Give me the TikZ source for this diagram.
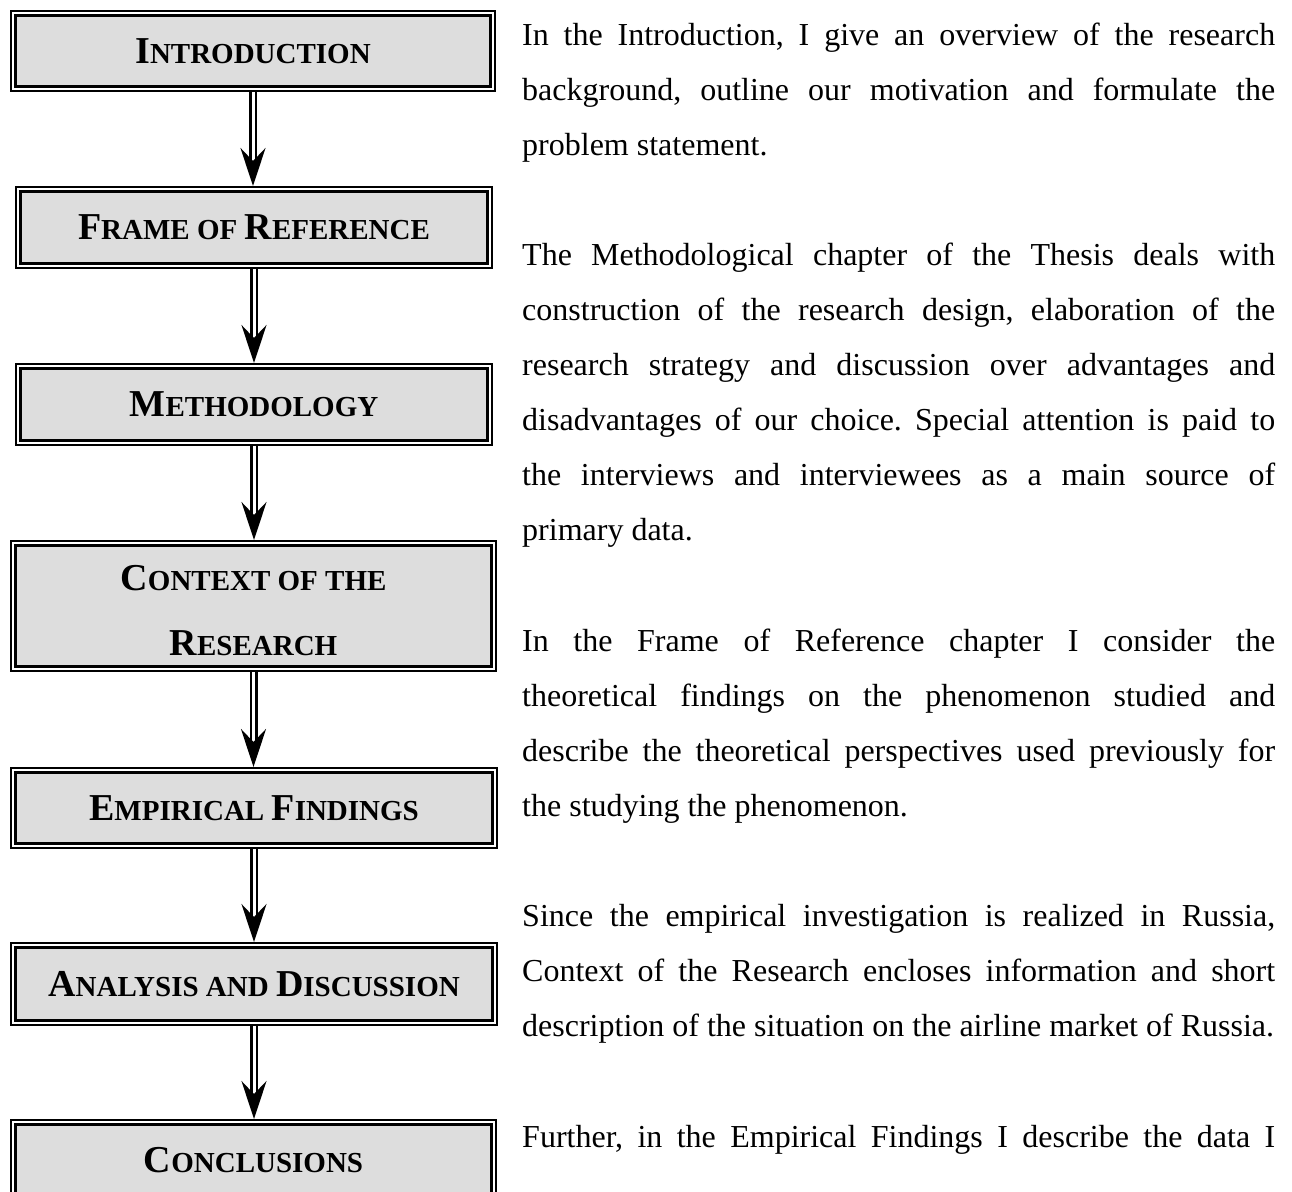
\documentclass[tikz,border=0pt]{standalone}
\usepackage{fontspec}
\setmainfont{Liberation Serif}
\usetikzlibrary{arrows.meta}

\definecolor{boxfill}{HTML}{DDDDDD}

% enlarged initial capital for the hand-made small caps of the box titles
\newcommand\initcap[1]{{\fontsize{38}{40}\selectfont #1}}

\tikzset{
  chapter/.style={
    draw=black, line width=2pt, fill=white, inner sep=0pt, align=center,
    font=\fontsize{29}{65}\selectfont\bfseries,
    path picture={
      \draw[line width=3pt, fill=boxfill]
        ([xshift=4.5pt,yshift=-4.5pt]path picture bounding box.north west) rectangle
        ([xshift=-4.5pt,yshift=4.5pt]path picture bounding box.south east);
    }
  },
  flow/.style={
    draw=black, line width=2.5pt, double=white, double distance=3pt,
    -{Stealth[length=38pt,width=25pt,inset=13pt]}
  },
  para/.style={anchor=base west, inner sep=0pt,
    font=\fontsize{32}{55.1}\selectfont}
}

\newcommand\parabox[1]{\parbox[t]{753pt}{\frenchspacing\hyphenpenalty=10000
  \tolerance=10000 #1}}

\begin{document}
\begin{tikzpicture}[x=1pt, y=-1pt]
  \useasboundingbox (0,0) rectangle (1292,1191);
  \clip (0,0) rectangle (1292,1191);

  % chapter boxes
  \node[chapter, minimum width=484pt, minimum height=80pt] (intro) at (253,51)
    {\initcap{I}NTRODUCTION};
  \node[chapter, minimum width=476pt, minimum height=81pt] (frame) at (254,227.5)
    {\initcap{F}RAME OF \initcap{R}EFERENCE};
  \node[chapter, minimum width=476pt, minimum height=81pt] (method) at (254,404.5)
    {\initcap{M}ETHODOLOGY};
  \node[chapter, minimum width=485pt, minimum height=130pt] (context) at (253.5,606)
    {\rule{0pt}{35pt}\initcap{C}ONTEXT OF THE\\\initcap{R}ESEARCH};
  \node[chapter, minimum width=486pt, minimum height=80pt] (empir) at (254,808)
    {\initcap{E}MPIRICAL \initcap{F}INDINGS};
  \node[chapter, minimum width=486pt, minimum height=82pt] (analysis) at (254,984)
    {\initcap{A}NALYSIS AND \initcap{D}ISCUSSION};
  \node[chapter, minimum width=485pt, minimum height=80pt] (concl) at (253.5,1160)
    {\initcap{C}ONCLUSIONS};

  % connectors between consecutive chapters
  \draw[flow] (intro.south)    -- (intro.south |- frame.north);
  \draw[flow] (frame.south)    -- (frame.south |- method.north);
  \draw[flow] (method.south)   -- (method.south |- context.north);
  \draw[flow] (context.south)  -- (context.south |- empir.north);
  \draw[flow] (empir.south)    -- (empir.south |- analysis.north);
  \draw[flow] (analysis.south) -- (analysis.south |- concl.north);

  % descriptive text column
  \node[para] (p1) at (522,45) {\parabox{In the Introduction, I give an overview of the research\linebreak
    background, outline our motivation and formulate the\linebreak
    problem statement.}};
  \node[para] (p2) at (522,265.4) {\parabox{The Methodological chapter of the Thesis deals with\linebreak
    construction of the research design, elaboration of the\linebreak
    research strategy and discussion over advantages and\linebreak
    disadvantages of our choice. Special attention is paid to\linebreak
    the interviews and interviewees as a main source of\linebreak
    primary data.}};
  \node[para] (p3) at (522,651.1) {\parabox{In the Frame of Reference chapter I consider the\linebreak
    theoretical findings on the phenomenon studied and\linebreak
    describe the theoretical perspectives used previously for\linebreak
    the studying the phenomenon.}};
  \node[para] (p4) at (522,926.6) {\parabox{Since the empirical investigation is realized in Russia,\linebreak
    Context of the Research encloses information and short\linebreak
    description of the situation on the airline market of Russia.}};
  \node[para] (p5) at (522,1147) {\parabox{\parfillskip=0pt
    Further, in the Empirical Findings I describe the data I}};
\end{tikzpicture}
\end{document}
